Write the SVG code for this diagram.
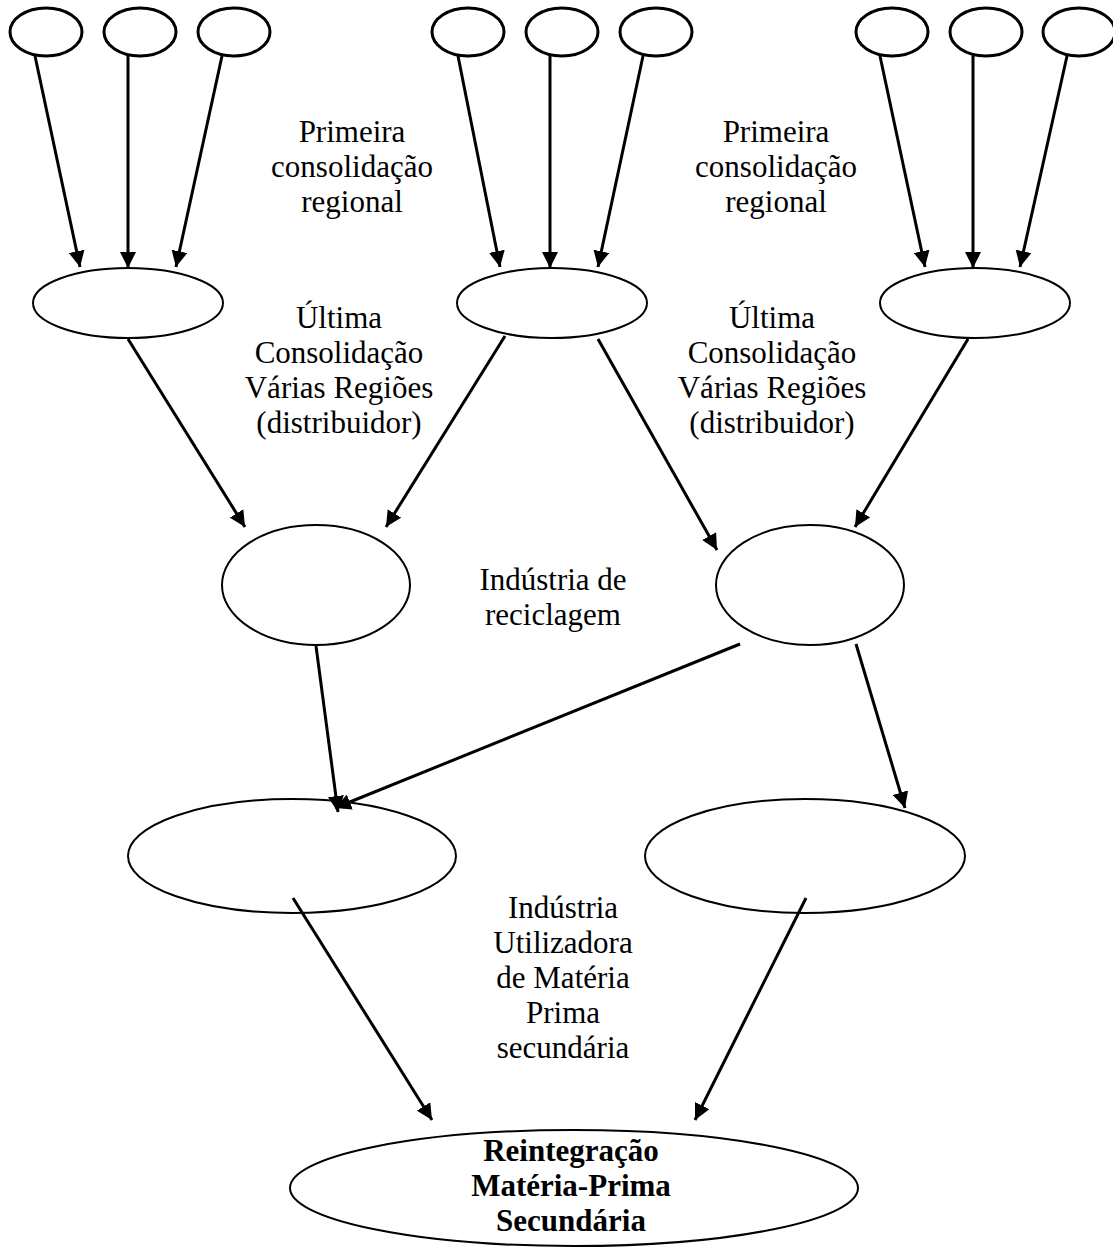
<svg xmlns="http://www.w3.org/2000/svg" width="1113" height="1255" viewBox="0 0 1113 1255">
<defs>
<marker id="ah" markerUnits="userSpaceOnUse" markerWidth="17" markerHeight="16" refX="16" refY="8" orient="auto">
<path d="M0,0 L16,8 L0,16 Z" fill="#000"/>
</marker>
<style>
.s{fill:#fff;stroke:#000;stroke-width:3}
.m{fill:#fff;stroke:#000;stroke-width:2}
.c line{stroke:#000;stroke-width:3;marker-end:url(#ah)}
text{font-family:"Liberation Serif","Times New Roman",serif;font-size:31px;fill:#000;text-anchor:middle}
.b{font-weight:bold}
</style>
</defs>
<rect width="1113" height="1255" fill="#fff"/>
<g id="src1"><ellipse class="s" cx="46" cy="32" rx="36" ry="24"/></g>
<g id="src2"><ellipse class="s" cx="140" cy="32" rx="36" ry="24"/></g>
<g id="src3"><ellipse class="s" cx="234" cy="32" rx="36" ry="24"/></g>
<g id="src4"><ellipse class="s" cx="468" cy="32" rx="36" ry="24"/></g>
<g id="src5"><ellipse class="s" cx="562" cy="32" rx="36" ry="24"/></g>
<g id="src6"><ellipse class="s" cx="656" cy="32" rx="36" ry="24"/></g>
<g id="src7"><ellipse class="s" cx="892" cy="32" rx="36" ry="24"/></g>
<g id="src8"><ellipse class="s" cx="986" cy="32" rx="36" ry="24"/></g>
<g id="src9"><ellipse class="s" cx="1079" cy="32" rx="36" ry="24"/></g>
<g id="reg1"><ellipse class="m" cx="128" cy="303" rx="95" ry="35"/></g>
<g id="reg2"><ellipse class="m" cx="552" cy="303" rx="95" ry="35"/></g>
<g id="reg3"><ellipse class="m" cx="975" cy="303" rx="95" ry="35"/></g>
<g id="dist1"><ellipse class="m" cx="316" cy="585" rx="94" ry="60"/></g>
<g id="dist2"><ellipse class="m" cx="810" cy="585" rx="94" ry="60"/></g>
<g id="rec1"><ellipse class="m" cx="292" cy="856" rx="164" ry="57"/></g>
<g id="rec2"><ellipse class="m" cx="805" cy="856" rx="160" ry="57"/></g>
<g id="final"><ellipse class="m" cx="574" cy="1188" rx="284" ry="58"/>
<text class="b" x="571" y="1161">Reintegração</text>
<text class="b" x="571" y="1196">Matéria-Prima</text>
<text class="b" x="571" y="1231">Secundária</text></g>
<g class="c" id="connectors">
<line x1="35" y1="56" x2="80" y2="267"/>
<line x1="128" y1="56" x2="128" y2="268"/>
<line x1="222" y1="56" x2="176" y2="267"/>
<line x1="458" y1="56" x2="500" y2="267"/>
<line x1="550" y1="56" x2="550" y2="268"/>
<line x1="643" y1="56" x2="598" y2="267"/>
<line x1="880" y1="56" x2="925" y2="267"/>
<line x1="973" y1="56" x2="973" y2="268"/>
<line x1="1067" y1="56" x2="1020" y2="267"/>
<line x1="128" y1="339" x2="245" y2="527"/>
<line x1="505" y1="336" x2="386" y2="527"/>
<line x1="598" y1="339" x2="717" y2="550"/>
<line x1="968" y1="339" x2="855" y2="527"/>
<line x1="316" y1="646" x2="338" y2="812"/>
<line x1="740" y1="644" x2="335" y2="808"/>
<line x1="856" y1="644" x2="905" y2="808"/>
<line x1="293" y1="898" x2="432" y2="1120"/>
<line x1="806" y1="898" x2="695" y2="1120"/>
</g>
<g id="labels">
<text x="352" y="142">Primeira</text>
<text x="352" y="177">consolidação</text>
<text x="352" y="212">regional</text>
<text x="776" y="142">Primeira</text>
<text x="776" y="177">consolidação</text>
<text x="776" y="212">regional</text>
<text x="339" y="328">Última</text>
<text x="339" y="363">Consolidação</text>
<text x="339" y="398">Várias Regiões</text>
<text x="339" y="433">(distribuidor)</text>
<text x="772" y="328">Última</text>
<text x="772" y="363">Consolidação</text>
<text x="772" y="398">Várias Regiões</text>
<text x="772" y="433">(distribuidor)</text>
<text x="553" y="590">Indústria de</text>
<text x="553" y="625">reciclagem</text>
<text x="563" y="918">Indústria</text>
<text x="563" y="953">Utilizadora</text>
<text x="563" y="988">de Matéria</text>
<text x="563" y="1023">Prima</text>
<text x="563" y="1058">secundária</text>
</g>
</svg>
